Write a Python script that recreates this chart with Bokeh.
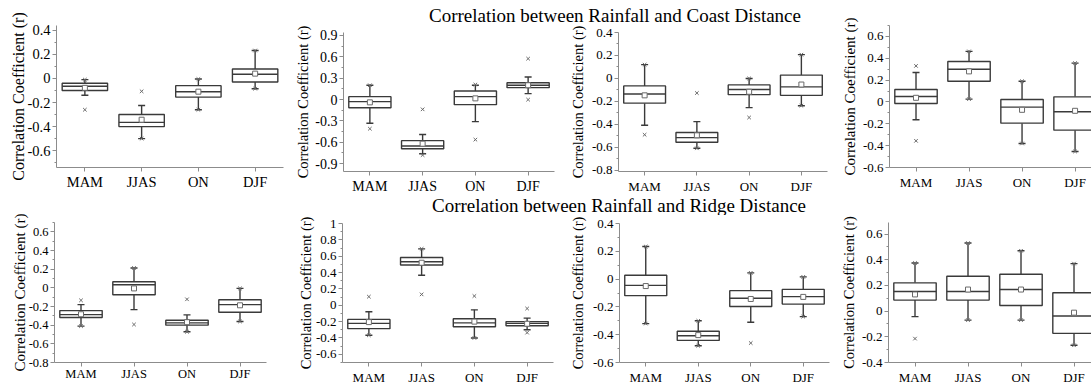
import numpy as np
from bokeh.plotting import figure
from bokeh.layouts import row, column
from bokeh.models import Range1d, FixedTicker, CustomJSTickFormatter, Label, ColumnDataSource
from bokeh.embed import file_html
from bokeh.resources import INLINE

seasons = ["MAM", "JJAS", "ON", "DJF"]
title_coast = "Correlation between Rainfall and Coast Distance"
title_ridge = "Correlation between Rainfall and Ridge Distance"
y_label = "Correlation Coefficient (r)"

# ---- Coast distance panels (row 1) ----
coast1_lo = [-0.14, -0.50, -0.26, -0.085]
coast1_q1 = [-0.10, -0.40, -0.155, -0.03]
coast1_med = [-0.065, -0.365, -0.11, 0.035]
coast1_q3 = [-0.04, -0.30, -0.06, 0.078]
coast1_hi = [-0.01, -0.225, -0.005, 0.232]
coast1_mean = [-0.078, -0.343, -0.11, 0.04]
coast1_xmin = [-0.26, -0.50, -0.26, -0.085]
coast1_xmax = [-0.01, -0.107, -0.005, 0.232]
coast1_ticks = [-0.6, -0.4, -0.2, 0, 0.2, 0.4]

coast2_lo = [-0.334, -0.76, -0.31, 0.082]
coast2_q1 = [-0.115, -0.69, -0.072, 0.166]
coast2_med = [-0.03, -0.652, 0.04, 0.20]
coast2_q3 = [0.04, -0.577, 0.119, 0.236]
coast2_hi = [0.20, -0.49, 0.20, 0.316]
coast2_mean = [-0.04, -0.62, 0.016, 0.20]
coast2_xmin = [-0.41, -0.78, -0.563, -0.002]
coast2_xmax = [0.20, -0.138, 0.21, 0.573]
coast2_ticks = [-0.9, -0.6, -0.3, 0, 0.3, 0.6, 0.9]

coast3_lo = [-0.407, -0.608, -0.254, -0.237]
coast3_q1 = [-0.215, -0.555, -0.141, -0.147]
coast3_med = [-0.135, -0.515, -0.096, -0.073]
coast3_q3 = [-0.065, -0.47, -0.056, 0.029]
coast3_hi = [0.12, -0.376, 0.0, 0.207]
coast3_mean = [-0.147, -0.495, -0.116, -0.053]
coast3_xmin = [-0.49, -0.608, -0.34, -0.237]
coast3_xmax = [0.12, -0.127, 0.0, 0.207]
coast3_ticks = [-0.8, -0.6, -0.4, -0.2, 0, 0.2, 0.4]

coast4_lo = [-0.163, 0.026, -0.38, -0.453]
coast4_q1 = [-0.014, 0.19, -0.194, -0.258]
coast4_med = [0.05, 0.30, -0.047, -0.09]
coast4_q3 = [0.114, 0.371, 0.023, 0.047]
coast4_hi = [0.27, 0.463, 0.19, 0.356]
coast4_mean = [0.038, 0.28, -0.072, -0.081]
coast4_xmin = [-0.356, 0.026, -0.38, -0.453]
coast4_xmax = [0.33, 0.463, 0.19, 0.356]
coast4_ticks = [-0.6, -0.4, -0.2, 0, 0.2, 0.4, 0.6]

# ---- Ridge distance panels (row 2) ----
ridge1_lo = [-0.41, -0.233, -0.471, -0.36]
ridge1_q1 = [-0.318, -0.074, -0.40, -0.262]
ridge1_med = [-0.287, 0.033, -0.375, -0.18]
ridge1_q3 = [-0.244, 0.065, -0.347, -0.127]
ridge1_hi = [-0.18, 0.213, -0.29, -0.006]
ridge1_mean = [-0.283, -0.006, -0.368, -0.187]
ridge1_xmin = [-0.41, -0.393, -0.471, -0.36]
ridge1_xmax = [-0.134, 0.213, -0.123, -0.006]
ridge1_ticks = [-0.8, -0.6, -0.4, -0.2, 0, 0.2, 0.4, 0.6]

ridge2_lo = [-0.367, 0.367, -0.40, -0.30]
ridge2_q1 = [-0.286, 0.492, -0.262, -0.25]
ridge2_med = [-0.222, 0.532, -0.215, -0.222]
ridge2_q3 = [-0.173, 0.585, -0.165, -0.20]
ridge2_hi = [-0.08, 0.69, -0.056, -0.157]
ridge2_mean = [-0.206, 0.52, -0.20, -0.226]
ridge2_xmin = [-0.367, 0.133, -0.40, -0.335]
ridge2_xmax = [0.105, 0.69, 0.113, -0.04]
ridge2_ticks = [-0.6, -0.4, -0.2, 0, 0.2, 0.4, 0.6, 0.8, 1]

ridge3_lo = [-0.32, -0.48, -0.31, -0.27]
ridge3_q1 = [-0.119, -0.441, -0.197, -0.18]
ridge3_med = [-0.045, -0.408, -0.138, -0.126]
ridge3_q3 = [0.028, -0.375, -0.083, -0.074]
ridge3_hi = [0.234, -0.30, 0.045, 0.016]
ridge3_mean = [-0.05, -0.403, -0.143, -0.128]
ridge3_xmin = [-0.32, -0.48, -0.46, -0.27]
ridge3_xmax = [0.234, -0.30, 0.045, 0.016]
ridge3_ticks = [-0.6, -0.4, -0.2, 0, 0.2, 0.4]

ridge4_lo = [-0.043, -0.07, -0.07, -0.266]
ridge4_q1 = [0.086, 0.086, 0.044, -0.173]
ridge4_med = [0.153, 0.153, 0.168, -0.038]
ridge4_q3 = [0.22, 0.272, 0.287, 0.143]
ridge4_hi = [0.375, 0.53, 0.47, 0.37]
ridge4_mean = [0.13, 0.168, 0.168, -0.012]
ridge4_xmin = [-0.214, -0.07, -0.07, -0.266]
ridge4_xmax = [0.375, 0.53, 0.47, 0.37]
ridge4_ticks = [-0.4, -0.2, 0, 0.2, 0.4, 0.6]

SERIF = "Liberation Serif"
LINE = "#3a3a3a"
AXIS = "#8c8c8c"
MARK = "#6a6a6a"
BOX_W = 0.8


def minor_of(ticks, y0, y1):
    step = ticks[1] - ticks[0]
    out = []
    k = ticks[0] - step / 2
    while k < y1 + 1e-9:
        if k > y0 - 1e-9:
            out.append(round(k, 4))
        k += step
    return out


def panel(lo, q1, med, q3, hi, mean, xmin, xmax, ticks, yr, geom, fonts,
          xr_end=4.5, lab_standoff=5, x_standoff=3):
    ml, fw, mr, mt, fh, mb = geom
    tick_fs, lab_fs = fonts
    p = figure(width=ml + fw + mr, height=mt + fh + mb,
               x_range=Range1d(0.5, xr_end), y_range=Range1d(*yr),
               output_backend="svg", toolbar_location=None,
               min_border_left=ml, min_border_right=mr,
               min_border_top=mt, min_border_bottom=mb)
    p.outline_line_color = None
    p.grid.visible = False
    p.background_fill_color = "white"
    p.border_fill_color = "white"

    xs = np.arange(1, len(seasons) + 1)
    src = ColumnDataSource(dict(
        x=xs, x0=xs - BOX_W / 2, x1=xs + BOX_W / 2,
        lo=lo, q1=q1, med=med, q3=q3, hi=hi, mean=mean, xmin=xmin, xmax=xmax))

    p.segment(x0="x", y0="lo", x1="x", y1="q1", source=src, line_color=LINE, line_width=1.4)
    p.segment(x0="x", y0="q3", x1="x", y1="hi", source=src, line_color=LINE, line_width=1.4)
    p.scatter(x="x", y="lo", source=src, marker="dash", size=7, line_color=LINE, line_width=1.4)
    p.scatter(x="x", y="hi", source=src, marker="dash", size=7, line_color=LINE, line_width=1.4)
    p.quad(left="x0", right="x1", bottom="q1", top="q3", source=src,
           fill_color="white", line_color=LINE, line_width=1.4)
    p.segment(x0="x0", y0="med", x1="x1", y1="med", source=src, line_color=LINE, line_width=1.4)
    p.scatter(x="x", y="mean", source=src, marker="square", size=5,
              fill_color="white", line_color=MARK, line_width=1)
    p.scatter(x="x", y="xmin", source=src, marker="x", size=5, line_color=MARK, line_width=1)
    p.scatter(x="x", y="xmax", source=src, marker="x", size=5, line_color=MARK, line_width=1)

    xa = p.xaxis[0]
    xa.ticker = FixedTicker(ticks=list(xs), minor_ticks=[])
    xa.major_label_overrides = {int(i): s for i, s in zip(xs, seasons)}
    xa.axis_line_color = AXIS
    xa.major_tick_line_color = AXIS
    xa.major_tick_out = 4
    xa.major_tick_in = 0
    xa.minor_tick_line_color = None
    xa.major_label_text_font = SERIF
    xa.major_label_text_font_size = f"{tick_fs}px"
    xa.major_label_text_color = "black"
    xa.major_label_standoff = x_standoff

    ya = p.yaxis[0]
    ya.ticker = FixedTicker(ticks=ticks, minor_ticks=minor_of(ticks, yr[0], yr[1]))
    ya.formatter = CustomJSTickFormatter(code="return String(Math.round(tick*100)/100);")
    ya.axis_line_color = AXIS
    ya.major_tick_line_color = AXIS
    ya.minor_tick_line_color = AXIS
    ya.major_tick_out = 4
    ya.major_tick_in = 0
    ya.minor_tick_out = 2
    ya.minor_tick_in = 0
    ya.major_label_text_font = SERIF
    ya.major_label_text_font_size = f"{tick_fs}px"
    ya.major_label_text_color = "black"
    ya.major_label_standoff = 2
    ya.axis_label = y_label
    ya.axis_label_text_font = SERIF
    ya.axis_label_text_font_style = "normal"
    ya.axis_label_text_font_size = f"{lab_fs}px"
    ya.axis_label_text_color = "black"
    ya.axis_label_standoff = lab_standoff
    return p


def title_fig(text, w, h, cx, base):
    t = figure(width=w, height=h, x_range=Range1d(0, w), y_range=Range1d(0, h),
               output_backend="svg", toolbar_location=None,
               x_axis_type=None, y_axis_type=None, min_border=0)
    t.outline_line_color = None
    t.add_layout(Label(x=cx, y=h - base, text=text, text_align="center",
                       text_baseline="alphabetic", text_font=SERIF,
                       text_font_size="19px", text_color="black"))
    return t


# geometry: (left border, frame width, right border, top border, frame height, bottom border)
f1 = panel(coast1_lo, coast1_q1, coast1_med, coast1_q3, coast1_hi, coast1_mean, coast1_xmin, coast1_xmax,
           coast1_ticks, (-0.74, 0.44), (56, 227, 3, 23, 150, 23), (14.5, 16), lab_standoff=-2, x_standoff=2)
f2 = panel(coast2_lo, coast2_q1, coast2_med, coast2_q3, coast2_hi, coast2_mean, coast2_xmin, coast2_xmax,
           coast2_ticks, (-1.01, 0.94), (57, 211, 3, 8, 140, 24), (14, 14.5), lab_standoff=1)
f3 = panel(coast3_lo, coast3_q1, coast3_med, coast3_q3, coast3_hi, coast3_mean, coast3_xmin, coast3_xmax,
           coast3_ticks, (-0.81, 0.40), (61, 209, 2, 6, 142, 24), (13, 14.5), lab_standoff=3)
f4 = panel(coast4_lo, coast4_q1, coast4_med, coast4_q3, coast4_hi, coast4_mean, coast4_xmin, coast4_xmax,
           coast4_ticks, (-0.60, 0.70), (60, 202, 0, 25, 142, 29), (13, 15), xr_end=4.31, lab_standoff=2)

f5 = panel(ridge1_lo, ridge1_q1, ridge1_med, ridge1_q3, ridge1_hi, ridge1_mean, ridge1_xmin, ridge1_xmax,
           ridge1_ticks, (-0.80, 0.70), (54, 212, 4, 25, 141, 25), (12.5, 15), lab_standoff=-2, x_standoff=0)
f6 = panel(ridge2_lo, ridge2_q1, ridge2_med, ridge2_q3, ridge2_hi, ridge2_mean, ridge2_xmin, ridge2_xmax,
           ridge2_ticks, (-0.70, 1.0), (72, 211, 3, 8, 142, 22), (13, 14.5), lab_standoff=-1)
f7 = panel(ridge3_lo, ridge3_q1, ridge3_med, ridge3_q3, ridge3_hi, ridge3_mean, ridge3_xmin, ridge3_xmax,
           ridge3_ticks, (-0.60, 0.40), (63, 210, 1, 8, 141, 23), (13, 14.5), lab_standoff=4)
f8 = panel(ridge4_lo, ridge4_q1, ridge4_med, ridge4_q3, ridge4_hi, ridge4_mean, ridge4_xmin, ridge4_xmax,
           ridge4_ticks, (-0.40, 0.69), (58, 203, 0, 26, 141, 24), (13, 14.5), xr_end=4.33, lab_standoff=2)

t1 = title_fig(title_coast, 543, 24, 328.5, 14.5)
t2 = title_fig(title_ridge, 560, 19, 348.5, 9)

layout = column(
    row(f1, column(t1, row(f2, f3)), f4),
    row(f5, column(t2, row(f6, f7)), f8),
)

open("out.html", "w").write(file_html(layout, INLINE))
